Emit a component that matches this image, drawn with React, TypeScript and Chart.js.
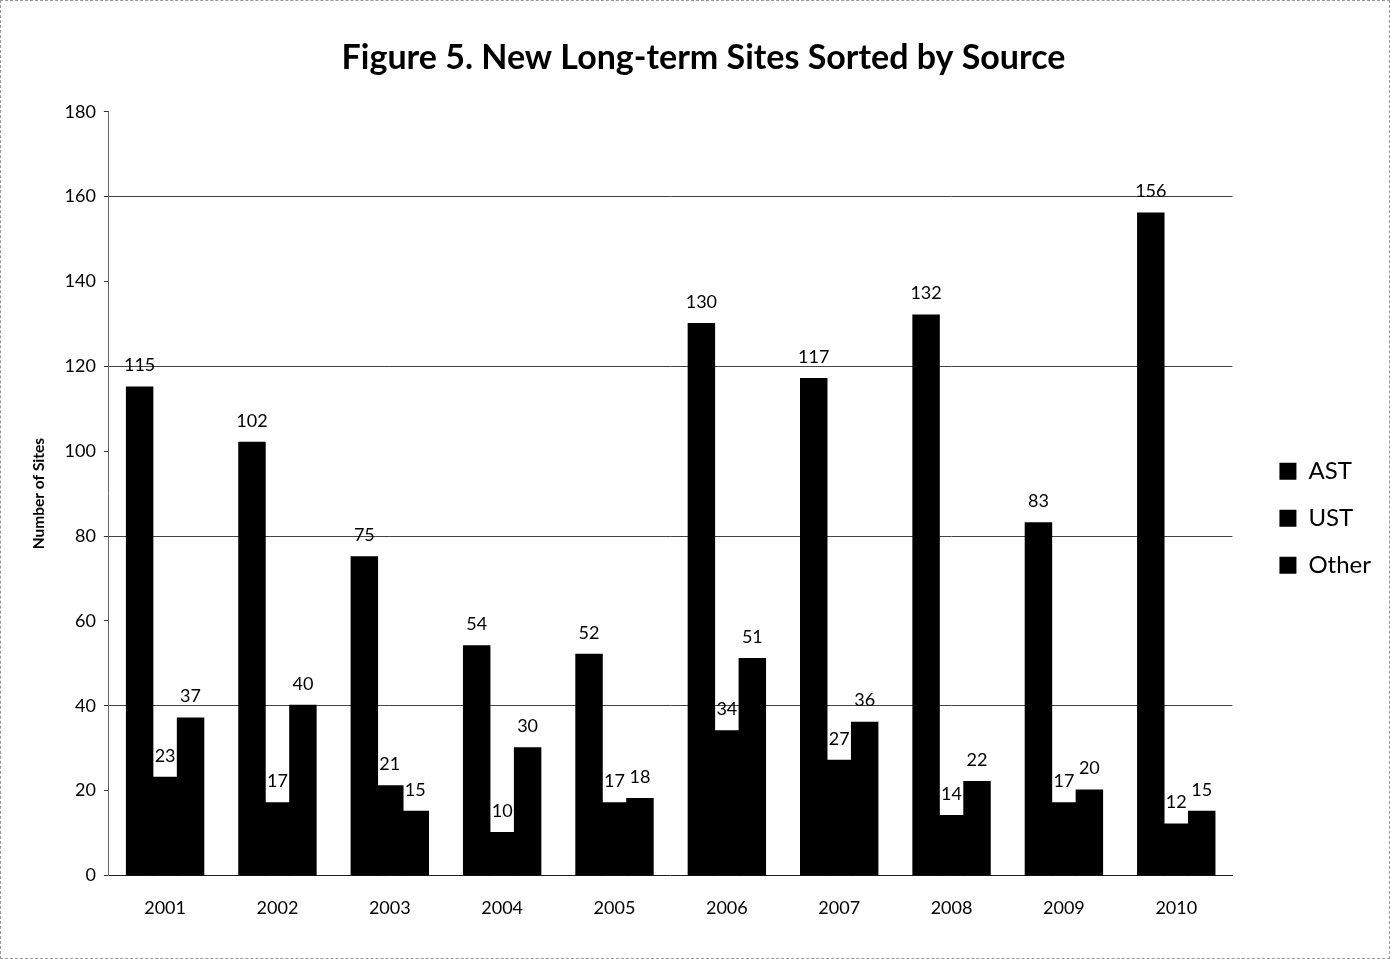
import React, { useEffect, useRef } from "react";
import { Chart, registerables } from "chart.js";

Chart.register(...registerables);

const years = ["2001", "2002", "2003", "2004", "2005", "2006", "2007", "2008", "2009", "2010"];
const astValues = [115, 102, 75, 54, 52, 130, 117, 132, 83, 156];
const ustValues = [23, 17, 21, 10, 17, 34, 27, 14, 17, 12];
const otherValues = [37, 40, 15, 30, 18, 51, 36, 22, 20, 15];
const seriesNames = ["AST", "UST", "Other"];
const titleText = "Figure 5. New Long-term Sites Sorted by Source";
const yAxisTitle = "Number of Sites";

const FONT = "Lato, 'Open Sans', sans-serif";

const valueLabels = {
  id: "valueLabels",
  afterDatasetsDraw(chart: any) {
    const ctx = chart.ctx;
    ctx.save();
    ctx.font = `18px ${FONT}`;
    ctx.fillStyle = "#000";
    ctx.textAlign = "center";
    ctx.textBaseline = "middle";
    chart.data.datasets.forEach((ds: any, i: number) => {
      const meta = chart.getDatasetMeta(i);
      meta.data.forEach((bar: any, j: number) => {
        ctx.fillText(String(ds.data[j]), bar.x, bar.y - 22);
      });
    });
    ctx.restore();
  },
};

export default function App() {
  const ref = useRef<HTMLCanvasElement | null>(null);
  useEffect(() => {
    document.body.style.margin = "0";
    const chart = new Chart(ref.current!, {
      type: "bar",
      data: {
        labels: years,
        datasets: [
          { label: seriesNames[0], data: astValues, backgroundColor: "#000", borderWidth: 0, inflateAmount: 1 },
          { label: seriesNames[1], data: ustValues, backgroundColor: "#000", borderWidth: 0, inflateAmount: 1 },
          { label: seriesNames[2], data: otherValues, backgroundColor: "#000", borderWidth: 0, inflateAmount: 1 },
        ],
      },
      options: {
        animation: false,
        responsive: true,
        maintainAspectRatio: false,
        datasets: { bar: { barPercentage: 1, categoryPercentage: 0.68 } },
        layout: { padding: { left: 25, right: 8, top: 20, bottom: 17 } },
        plugins: {
          title: {
            display: true,
            text: titleText,
            color: "#000",
            font: { family: FONT, size: 34, weight: "bold" },
            padding: { top: 17, bottom: 33 },
          },
          legend: {
            position: "right",
            title: {
              display: true,
              text: " ",
              font: { family: FONT, size: 12 },
              padding: { top: 30, bottom: 30 },
            },
            labels: {
              color: "#000",
              font: { family: FONT, size: 24 },
              boxWidth: 17,
              boxHeight: 17,
              padding: 23,
            },
          },
          tooltip: { enabled: false },
        },
        scales: {
          x: {
            grid: { display: false, drawTicks: false },
            border: { display: true, color: "#222", width: 1 },
            ticks: { color: "#000", font: { family: FONT, size: 18 }, padding: 22 },
          },
          y: {
            min: 0,
            max: 180,
            ticks: { stepSize: 20, color: "#000", font: { family: FONT, size: 18 }, padding: 8 },
            grid: {
              color: (c: any) => (c.tick && c.tick.value > 0 && c.tick.value % 40 === 0 ? "#444" : "transparent"),
              tickColor: "#333",
              tickLength: 5,
              drawTicks: true,
            },
            border: { display: true, color: "#666", width: 1 },
            title: {
              display: true,
              text: yAxisTitle,
              color: "#000",
              font: { family: FONT, size: 15.5, weight: "bold" },
              padding: { bottom: 8 },
            },
          },
          spacer: {
            type: "linear",
            position: "right",
            display: true,
            grid: { display: false, drawTicks: false },
            ticks: { display: false },
            border: { display: false },
            afterFit: (s: any) => {
              s.width = 24;
            },
          },
        },
      },
      plugins: [valueLabels],
    });
    return () => chart.destroy();
  }, []);
  return (
    <div
      style={{
        position: "absolute",
        left: 0,
        top: 0,
        width: 1390,
        height: 959,
        background: "#fff",
        boxSizing: "border-box",
        border: "1px dashed #999",
      }}
    >
      <canvas ref={ref} />
    </div>
  );
}
